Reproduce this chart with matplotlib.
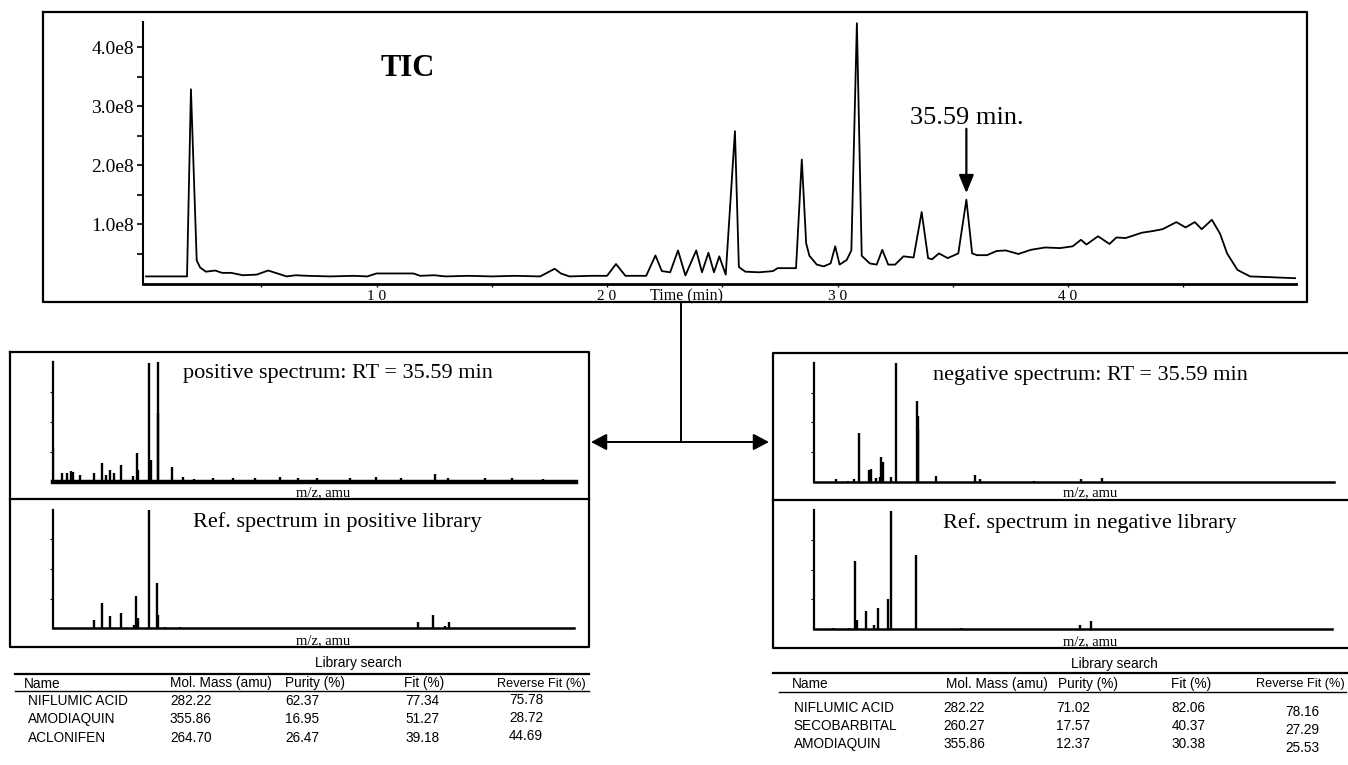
import matplotlib
matplotlib.use("Agg")
import matplotlib.pyplot as plt
from matplotlib.ticker import FixedLocator

W, H = 1348, 765
SERIF = "Liberation Serif"
SANS = "Liberation Sans"

# ---------------- data ----------------
tic_time = [0.0, 1.78, 1.95, 2.2, 2.35, 2.6, 3.0, 3.3, 3.7, 4.2, 4.8, 5.3, 5.7, 6.1, 6.5, 7.0, 8.0, 9.0,
            9.6, 10.0, 11.6, 11.9, 12.5, 13.0, 14.0, 15.0, 16.0, 17.1, 17.73, 18.0, 18.37, 19.3, 20.0,
            20.39, 20.8, 21.7, 22.1, 22.38, 22.74, 23.08, 23.4, 23.87, 24.12, 24.4, 24.64, 24.87, 25.15,
            25.55, 25.72, 26.0, 26.6, 27.2, 27.4, 28.2, 28.45, 28.64, 28.78, 29.1, 29.4, 29.7, 29.9,
            30.09, 30.4, 30.6, 30.84, 31.05, 31.4, 31.7, 31.94, 32.2, 32.5, 32.86, 33.3, 33.65, 33.93,
            34.1, 34.4, 34.78, 35.24, 35.59, 35.84, 36.05, 36.48, 36.9, 37.3, 37.85, 38.38, 39.0, 39.66,
            40.2, 40.56, 40.8, 41.3, 41.8, 42.1, 42.5, 43.2, 43.7, 44.1, 44.7, 45.1, 45.5, 45.8, 46.24,
            46.6, 46.9, 47.35, 47.9, 48.6, 49.2, 49.85]
tic_int_e8 = [0.12, 0.12, 3.29, 0.39, 0.27, 0.2, 0.22, 0.18, 0.18, 0.14, 0.15, 0.22, 0.17, 0.12, 0.14, 0.13,
              0.12, 0.13, 0.12, 0.17, 0.17, 0.13, 0.14, 0.12, 0.13, 0.12, 0.13, 0.12, 0.25, 0.17, 0.12,
              0.13, 0.13, 0.33, 0.13, 0.13, 0.475, 0.21, 0.19, 0.56, 0.136, 0.56, 0.19, 0.52, 0.19, 0.46,
              0.15, 2.58, 0.28, 0.2, 0.19, 0.21, 0.26, 0.26, 2.1, 0.68, 0.47, 0.32, 0.29, 0.34, 0.63,
              0.32, 0.4, 0.56, 4.41, 0.47, 0.34, 0.32, 0.57, 0.32, 0.32, 0.46, 0.44, 1.21, 0.43, 0.41,
              0.51, 0.43, 0.51, 1.42, 0.51, 0.48, 0.48, 0.55, 0.56, 0.5, 0.57, 0.61, 0.6, 0.63, 0.74,
              0.66, 0.8, 0.67, 0.78, 0.77, 0.86, 0.89, 0.92, 1.04, 0.95, 1.04, 0.92, 1.08, 0.84, 0.51,
              0.23, 0.12, 0.11, 0.1, 0.09]
tic_yticks_e8 = [1, 2, 3, 4]
tic_ytick_labels = ["1.0e8", "2.0e8", "3.0e8", "4.0e8"]
tic_xticks = [10, 20, 30, 40]
tic_xtick_labels = ["1 0", "2 0", "3 0", "4 0"]
marked_rt = 35.59

pos_sample_mz = [61, 80, 90, 98, 104, 119, 148, 164, 173, 182, 190, 206, 230, 238, 242, 264, 268, 283, 284,
                 314, 336, 360, 400, 443, 490, 543, 580, 620, 691, 746, 800, 872, 900, 978, 1034, 1100]
pos_sample_int = [0.28, 0.075, 0.075, 0.09, 0.08, 0.06, 0.075, 0.16, 0.06, 0.10, 0.07, 0.14, 0.05, 0.24,
                  0.10, 0.99, 0.18, 1.0, 0.57, 0.12, 0.036, 0.025, 0.028, 0.03, 0.03, 0.042, 0.03, 0.03,
                  0.032, 0.036, 0.03, 0.064, 0.03, 0.03, 0.03, 0.025]
pos_ref_mz = [148, 164, 182, 205, 234, 238, 242, 264, 283, 285, 300, 330, 837, 870, 895, 903]
pos_ref_int = [0.07, 0.21, 0.10, 0.127, 0.03, 0.27, 0.085, 1.0, 0.38, 0.11, 0.01, 0.01, 0.05, 0.11, 0.02, 0.05]
neg_sample_mz = [108, 132, 146, 157, 177, 180, 182, 192, 200, 204, 207, 224, 236, 281, 282, 283, 320, 404,
                 414, 530, 630, 675]
neg_sample_int = [0.02, 0.01, 0.02, 0.41, 0.10, 0.10, 0.11, 0.03, 0.04, 0.21, 0.17, 0.04, 1.0, 0.68, 0.55,
                  0.44, 0.05, 0.056, 0.02, 0.01, 0.02, 0.028]
neg_ref_mz = [100, 135, 148, 152, 172, 188, 197, 218, 224, 278, 375, 630, 653]
neg_ref_int = [0.01, 0.01, 0.57, 0.08, 0.154, 0.04, 0.18, 0.25, 0.99, 0.62, 0.01, 0.04, 0.07]
mz_range = (60, 1170)

table_header = ["Name", "Mol. Mass (amu)", "Purity (%)", "Fit (%)", "Reverse Fit (%)"]
pos_table = [["NIFLUMIC ACID", "282.22", "62.37", "77.34", "75.78"],
             ["AMODIAQUIN", "355.86", "16.95", "51.27", "28.72"],
             ["ACLONIFEN", "264.70", "26.47", "39.18", "44.69"]]
neg_table = [["NIFLUMIC ACID", "282.22", "71.02", "82.06", "78.16"],
             ["SECOBARBITAL", "260.27", "17.57", "40.37", "27.29"],
             ["AMODIAQUIN", "355.86", "12.37", "30.38", "25.53"]]

# ---------------- figure ----------------
fig = plt.figure(figsize=(W / 100, H / 100), dpi=100)


def add_ax(l, t, r, b):
    return fig.add_axes([l / W, 1 - b / H, (r - l) / W, (b - t) / H])


# TIC axes
ax = add_ax(143, 22, 1296, 283.5)
ax.plot(tic_time, [v * 1e8 for v in tic_int_e8], color="black", lw=1.3)
ax.set_xlim(-0.13, 49.89)
ax.set_ylim(0, 4.43e8)
for s in ("top", "right"):
    ax.spines[s].set_visible(False)
ax.spines["left"].set_linewidth(1.5)
ax.spines["bottom"].set_linewidth(2.0)
ax.set_yticks([v * 1e8 for v in tic_yticks_e8])
ax.set_yticklabels(tic_ytick_labels, fontsize=14, family=SERIF)
ax.yaxis.set_minor_locator(FixedLocator([0.5e8, 1.5e8, 2.5e8, 3.5e8]))
ax.tick_params(axis="y", which="both", length=4.5, width=1.2, pad=2, direction="out")
ax.set_xticks(tic_xticks)
ax.set_xticklabels(tic_xtick_labels, fontsize=11, family=SERIF)
ax.xaxis.set_minor_locator(FixedLocator([5, 15, 25, 35, 45]))
ax.tick_params(axis="x", which="both", length=2.5, width=1, pad=2.5, direction="out")
ax.patch.set_alpha(0)
ax.text(11.37, 3.64e8, "TIC", fontsize=22, family=SERIF, fontweight="bold", ha="center", va="center")
ax.annotate("", xy=(marked_rt, 1.53e8), xytext=(marked_rt, 2.62e8),
            arrowprops=dict(arrowstyle="-|>,head_length=1.1,head_width=0.45", lw=1.6, color="black",
                            shrinkA=0, shrinkB=0))
ax.text(marked_rt, 2.8e8, f"{marked_rt:.2f} min.", fontsize=19, family=SERIF, ha="center", va="center")


def spectrum(l, t, r, b, mz, inten, floor_lw=1.8):
    a = add_ax(l, t, r, b)
    a.vlines(mz, 0, inten, color="black", lw=1.7)
    a.set_xlim(*mz_range)
    a.set_ylim(0, 1.0)
    for s in ("top", "right"):
        a.spines[s].set_visible(False)
    a.spines["left"].set_linewidth(1.6)
    a.spines["bottom"].set_linewidth(floor_lw)
    a.set_xticks([])
    a.set_yticks([0.25, 0.5, 0.75])
    a.set_yticklabels([])
    a.tick_params(axis="y", length=2, width=0.8, direction="out")
    a.patch.set_alpha(0)
    return a


spectrum(52.7, 361.7, 575.6, 481.7, pos_sample_mz, pos_sample_int, floor_lw=3.2)
spectrum(52.7, 509.5, 574, 628.3, pos_ref_mz, pos_ref_int)
spectrum(814, 363, 1333.7, 481.7, neg_sample_mz, neg_sample_int)
spectrum(814, 510, 1332, 629.3, neg_ref_mz, neg_ref_int)

# overlay for frames, connectors and tables
ov = fig.add_axes([0, 0, 1, 1])
ov.set_xlim(0, W)
ov.set_ylim(H, 0)
ov.axis("off")
ov.patch.set_alpha(0)

LW = 1.6
# TIC frame
ov.plot([43, 1307, 1307, 43, 43], [12, 12, 301.5, 301.5, 12], color="black", lw=LW)
ov.text(686, 296.5, "Time (min)", fontsize=11.5, family=SERIF, ha="center", va="center")
# connector
ov.plot([681, 681], [301.5, 442], color="black", lw=1.4)
ov.annotate("", xy=(591, 442), xytext=(769, 442),
            arrowprops=dict(arrowstyle="<|-|>,head_length=0.95,head_width=0.5", lw=1.4, color="black",
                            shrinkA=0, shrinkB=0))
# left spectrum panel frame
ov.plot([10, 589, 589, 10, 10], [352, 352, 647, 647, 352], color="black", lw=LW)
ov.plot([10, 589], [499, 499], color="black", lw=LW)
# right spectrum panel frame (right edge cut by image border)
ov.plot([1348, 773, 773, 1348], [353, 353, 648, 648], color="black", lw=LW)
ov.plot([773, 1348], [500, 500], color="black", lw=LW)

ov.text(338, 373, "positive spectrum: RT = 35.59 min", fontsize=16, family=SERIF, ha="center", va="center")
ov.text(337.6, 522, "Ref. spectrum in positive library", fontsize=16, family=SERIF, ha="center", va="center")
ov.text(1090, 375, "negative spectrum: RT = 35.59 min", fontsize=16, family=SERIF, ha="center", va="center")
ov.text(1090, 523, "Ref. spectrum in negative library", fontsize=16, family=SERIF, ha="center", va="center")
for x, y in [(323.5, 492.5), (323.5, 640.5), (1090, 493), (1090, 641.5)]:
    ov.text(x, y, "m/z, amu", fontsize=10.5, family=SERIF, ha="center", va="center")

TFS = 9.8


def table(rows, title_x, title_y, rule1, rule2, hdr_x, hdr_right, hdr_y, col_x, row_y, rev_dy):
    ov.text(title_x, title_y, "Library search", fontsize=TFS, family=SANS, ha="center", va="center")
    ov.plot(rule1[0], rule1[1], color="black", lw=1.6)
    ov.plot(rule2[0], rule2[1], color="black", lw=1.0)
    for i, (hx, h) in enumerate(zip(hdr_x, table_header)):
        if i == 4:
            ov.text(hdr_right, hdr_y, h, fontsize=TFS - 0.6, family=SANS, ha="right", va="center")
        else:
            ov.text(hx, hdr_y, h, fontsize=TFS, family=SANS, ha="left", va="center")
    for ry, row in zip(row_y, rows):
        for ci, (cx, val) in enumerate(zip(col_x, row)):
            yy = ry + (rev_dy if ci == 4 else 0)
            ov.text(cx, yy, val, fontsize=TFS, family=SANS, ha="left", va="center")


table(pos_table, 358, 663, ([15, 589], [674, 674]), ([15, 589], [691, 691]),
      [23.7, 170, 285, 404, 497.5], 586, 683.5, [28, 170, 285, 405, 509], [701, 719.3, 737.7], -1.5)
table(neg_table, 1114, 664, ([773, 1348], [672.7, 672.7]), ([779, 1346], [691.7, 691.7]),
      [792, 945.6, 1058, 1171.3, 1256.8], 1345, 684.3, [793.7, 943.7, 1056, 1171.3, 1285],
      [708, 726, 744], 4)

fig.savefig("out.png", dpi=100)
